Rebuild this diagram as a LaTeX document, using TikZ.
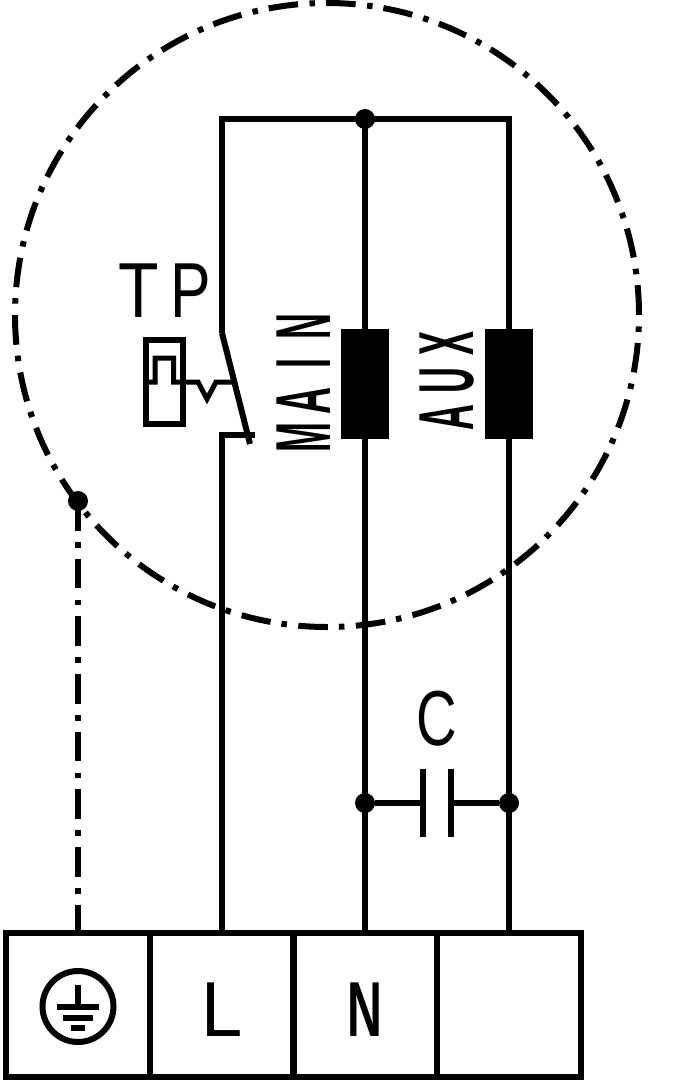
\documentclass[tikz,border=0pt]{standalone}
\usepackage{fontspec}
\setmainfont{Liberation Sans}
\newcommand\lt[3]{\makebox[#1pt]{\scalebox{#2}[1]{\fontsize{78}{78}\selectfont #3}}}
\newcommand\bt[3]{\makebox[#1pt]{\scalebox{#2}[1]{\fontsize{78}{78}\selectfont\bfseries #3}}}
\tikzset{
  wire/.style={line width=6pt,line join=miter,line cap=butt},
  earthline/.style={line width=6pt,dash pattern=on 29.66pt off 11.5pt on 5.5pt off 11pt},
  dotnode/.style={circle,fill=black,inner sep=0pt,minimum size=20pt},
  coil/.style={rectangle,fill=black,inner sep=0pt,minimum width=48pt,minimum height=110pt},
  cell/.style={rectangle,draw=black,line width=6pt,inner sep=0pt,minimum width=144pt,minimum height=144pt},
  word/.style={inner sep=0pt,anchor=center}
}
\begin{document}
\begin{tikzpicture}[x=1pt,y=-1pt]
\useasboundingbox (0,0) rectangle (685,1083);
% dashed enclosure
\draw[earthline,dash phase=29.7pt] (327,315) circle [radius=312];
% terminals
\node[cell] (t1) at (78,1004.5) {};
\node[cell] (t2) at (222,1004.5) {};
\node[cell] (t3) at (365,1004.5) {};
\node[cell] (t4) at (509,1004.5) {};
% coils
\node[coil] (main) at (365,384) {};
\node[coil] (aux) at (509,384) {};
% wiring
\coordinate (sw1) at (222,333);
\coordinate (sw2) at (222,435);
\coordinate (tl) at (222,119);
\coordinate (tr) at (509,119);
\draw[wire] (sw1) -- (tl) -- (tr) -- (aux.north);
\draw[wire] (365,119) -- (main.north);
\draw[wire] (main.south) -- (t3.north);
\draw[wire] (aux.south) -- (t4.north);
\draw[wire] (sw2 |- t2.north) -- (sw2) -- (255,435);
\draw[wire] (sw1) -- (250,444);
% junctions
\node[dotnode] (top) at (365,119) {};
\node[dotnode] (cl) at (365,803) {};
\node[dotnode] (cr) at (509,803) {};
\node[dotnode] (gnd) at (78,501) {};
\draw[earthline] (gnd.center) -- (t1.north);
% capacitor
\coordinate (c1) at (423,803);
\coordinate (c2) at (451,803);
\draw[wire] (cl) -- (c1);
\draw[wire] (c2) -- (cr);
\draw[wire] (423,769) -- (423,837);
\draw[wire] (451,769) -- (451,837);
% thermal protector
\draw[wire] (146,340) rectangle (182.5,424);
\draw[wire,line width=5pt] (146,382) -- (155,382) -- (155,358) -- (173.5,358) -- (173.5,382) -- (198,382) -- (207,399) -- (216,382) -- (233,382);
% earth symbol
\node[circle,draw=black,line width=6pt,minimum size=71pt,inner sep=0pt] (earth) at (78,1006.5) {};
\draw[wire] (78,985) -- (78,1006);
\draw[wire] (57,1006.5) -- (99,1006.5);
\draw[wire] (63,1017.5) -- (93,1017.5);
\draw[wire] (71,1028) -- (85,1028);
% labels
\node[word] (tp) at (165,291) {\lt{52}{.85}{T}\lt{52}{.78}{P}};
\node[word,rotate=90] (mainlab) at (304,382) {\bt{37}{.46}{M}\bt{37}{.48}{A}\bt{37}{.46}{I}\bt{37}{.46}{N}};
\node[word,rotate=90] (auxlab) at (447,381) {\bt{37}{.46}{A}\bt{37}{.46}{U}\bt{37}{.46}{X}};
\node[word] (clab) at (437,719) {\lt{40}{.72}{C}};
\node[word] (llab) at (222,1009.5) {\lt{40}{.95}{L}};
\node[word] (nlab) at (365,1009.5) {\bt{40}{.62}{N}};
\end{tikzpicture}
\end{document}
